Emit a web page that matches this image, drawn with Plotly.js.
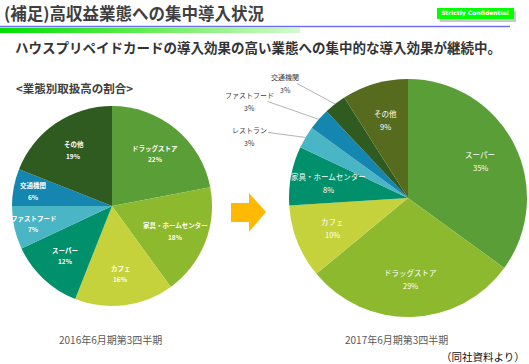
<!DOCTYPE html>
<html>
<head>
<meta charset="utf-8">
<script src="https://cdn.plot.ly/plotly-3.0.1.min.js"></script>
<style>html,body{margin:0;padding:0;background:#fff;}#chart{width:529px;height:364px;}</style>
</head>
<body>
<div id="chart"></div>
<script>
// ---- data ----
const labels2016 = ["ドラッグストア", "家具・ホームセンター", "カフェ", "スーパー", "ファストフード", "交通機関", "その他"];
const values2016 = [22, 18, 16, 12, 7, 6, 19];
const colors2016 = ["#5a9e38", "#8db92f", "#c6d23c", "#00906c", "#4ab5c4", "#1486b0", "#2f5b20"];

const labels2017 = ["スーパー", "ドラッグストア", "カフェ", "家具・ホームセンター", "レストラン", "ファストフード", "交通機関", "その他"];
const values2017 = [35, 29, 10, 8, 3, 3, 3, 9];
const colors2017 = ["#5a9e38", "#8db92f", "#c6d23c", "#00906c", "#4ab5c4", "#1486b0", "#2f5b20", "#566b1e"];

const periodLabels = ["2016年6月期第3四半期", "2017年6月期第3四半期"];
const titleText = "(補足)高収益業態への集中導入状況";
const subtitleText = "ハウスプリペイドカードの導入効果の高い業態への集中的な導入効果が継続中。";
const sectionText = "<業態別取扱高の割合>";
const sourceText = "（同社資料より）";

// ---- layout constants ----
const W = 529, H = 364;
const px = x => x / W;
const py = y => 1 - y / H;
const FONT = "Noto Sans CJK JP, Noto Sans, sans-serif";

const pieL = {cx: 112, cy: 206, r: 100};
const pieR = {cx: 408, cy: 198, r: 119};
// slices whose labels sit outside (2017) and where their label text is placed (pixels)
const outsideLabelPos = {"レストラン": [249, 130], "ファストフード": [249, 95], "交通機関": [285, 77]};

function pieDomain(p) {
  return {x: [px(p.cx - p.r), px(p.cx + p.r)], y: [py(p.cy + p.r), py(p.cy - p.r)]};
}

function sliceAngles(values) {
  const total = values.reduce((a, b) => a + b, 0);
  let cum = 0;
  return values.map(v => { const mid = (cum + v / 2) / total * 2 * Math.PI; cum += v; return mid; });
}

function labelAnnotations(labels, values, p, opt) {
  const mids = sliceAngles(values);
  const anns = [];
  labels.forEach((lab, i) => {
    const th = mids[i];
    const pct = values[i] + "%";
    if (opt.outside && opt.outside[lab]) {
      const [tx, ty] = opt.outside[lab];
      const ex = p.cx + p.r * Math.sin(th), ey = p.cy - p.r * Math.cos(th);
      anns.push({text: lab, xref: "paper", yref: "paper", x: px(ex), y: py(ey),
        ax: tx - ex, ay: ty - ey, showarrow: true, arrowhead: 0, arrowwidth: 0.8,
        arrowcolor: "#a0a0a0", standoff: 0, startstandoff: 0,
        font: {family: FONT, size: opt.outSize, color: "#404040"}});
      anns.push({text: pct, xref: "paper", yref: "paper", x: px(tx), y: py(ty + opt.gap),
        showarrow: false, xanchor: "center", yanchor: "middle",
        font: {family: FONT, size: opt.outSize, color: "#404040"}});
      return;
    }
    const f = values[i] < 8 ? 0.8 : 0.68;
    const lx = p.cx + f * p.r * Math.sin(th), ly = p.cy - f * p.r * Math.cos(th);
    const w = opt.bold ? 700 : 400;
    anns.push({text: lab, xref: "paper", yref: "paper", x: px(lx), y: py(ly - opt.gap / 2),
      showarrow: false, xanchor: "center", yanchor: "middle",
      font: {family: FONT, size: opt.size, color: "#ffffff", weight: w}});
    anns.push({text: pct, xref: "paper", yref: "paper", x: px(lx), y: py(ly + opt.gap / 2),
      showarrow: false, xanchor: "center", yanchor: "middle",
      font: {family: FONT, size: opt.size, color: "#ffffff", weight: w}});
  });
  return anns;
}

const trace2016 = {
  type: "pie", labels: labels2016, values: values2016,
  sort: false, direction: "clockwise", rotation: 0,
  marker: {colors: colors2016, line: {width: 0}},
  textinfo: "none", hoverinfo: "skip",
  domain: pieDomain(pieL)
};

const trace2017 = {
  type: "pie", labels: labels2017, values: values2017,
  sort: false, direction: "clockwise", rotation: 0,
  marker: {colors: colors2017, line: {width: 0}},
  textinfo: "none", hoverinfo: "skip",
  domain: pieDomain(pieR)
};

const gradSvg = '<svg xmlns="http://www.w3.org/2000/svg" width="300" height="6"><defs><linearGradient id="g" x1="0" x2="1" y1="0" y2="0"><stop offset="0" stop-color="#00e000"/><stop offset="0.5" stop-color="#66ee55"/><stop offset="1" stop-color="#d6fad0"/></linearGradient></defs><rect width="300" height="6" fill="url(#g)"/></svg>';

const textAnns = [
  {text: titleText, x: px(2), y: py(13), xanchor: "left", font: {family: FONT, size: 16.5, color: "#3f3f3f", weight: 700}},
  {text: "Strictly Confidential", x: px(475), y: py(13.5), xanchor: "center", font: {family: "DejaVu Sans, sans-serif", size: 6, color: "#ffffff", weight: 700}},
  {text: subtitleText, x: px(13), y: py(47), xanchor: "left", font: {family: FONT, size: 13.5, color: "#333333", weight: 700}},
  {text: sectionText, x: px(14), y: py(88), xanchor: "left", font: {family: FONT, size: 11.5, color: "#404040", weight: 700}},
  {text: periodLabels[0], x: px(110), y: py(339), xanchor: "center", font: {family: FONT, size: 10, color: "#595959"}},
  {text: periodLabels[1], x: px(396), y: py(339), xanchor: "center", font: {family: FONT, size: 10, color: "#595959"}},
  {text: sourceText, x: px(527), y: py(356), xanchor: "right", font: {family: FONT, size: 10.5, color: "#111111"}}
].map(a => Object.assign({xref: "paper", yref: "paper", yanchor: "middle", showarrow: false}, a));

const layout = {
  width: W, height: H,
  margin: {l: 0, r: 0, t: 0, b: 0},
  paper_bgcolor: "#ffffff",
  showlegend: false,
  font: {family: FONT},
  images: [{
    source: "data:image/svg+xml;charset=utf-8," + encodeURIComponent(gradSvg),
    xref: "paper", yref: "paper",
    x: px(0), y: py(27.5), sizex: px(300), sizey: 5.5 / H,
    sizing: "stretch", xanchor: "left", yanchor: "top", layer: "below"
  }],
  shapes: [
    {type: "line", xref: "paper", yref: "paper", x0: px(0), x1: px(510), y0: py(26.5), y1: py(26.5),
     line: {color: "#6f6ff2", width: 1.5}},
    {type: "rect", xref: "paper", yref: "paper", x0: px(440), x1: px(516), y0: py(22), y1: py(11),
     fillcolor: "#c8c8c8", line: {width: 0}},
    {type: "rect", xref: "paper", yref: "paper", x0: px(437), x1: px(514), y0: py(19), y1: py(8),
     fillcolor: "#00ff00", line: {width: 0}},
    {type: "path", xref: "paper", yref: "paper",
     path: `M ${px(231)} ${py(203)} L ${px(249)} ${py(203)} L ${px(249)} ${py(193)} L ${px(266)} ${py(212)} L ${px(249)} ${py(232)} L ${px(249)} ${py(222)} L ${px(231)} ${py(222)} Z`,
     fillcolor: "#ffb900", line: {width: 0}}
  ],
  annotations: textAnns
    .concat(labelAnnotations(labels2016, values2016, pieL, {size: 6.5, bold: true, gap: 11.5}))
    .concat(labelAnnotations(labels2017, values2017, pieR, {size: 7.5, bold: false, gap: 13.3, outside: outsideLabelPos, outSize: 7}))
};

Plotly.newPlot("chart", [trace2016, trace2017], layout, {staticPlot: true, displayModeBar: false});
</script>
</body>
</html>
